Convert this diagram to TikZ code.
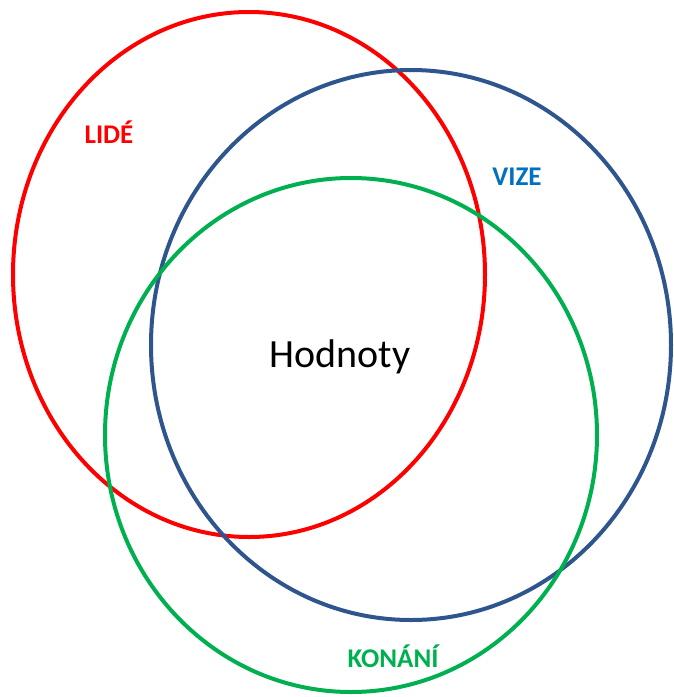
\documentclass[tikz,border=0pt]{standalone}
\usepackage{fontspec}
\setmainfont{Carlito}
\definecolor{ringred}{RGB}{255,0,0}
\definecolor{ringblue}{RGB}{47,85,143}
\definecolor{ringgreen}{RGB}{0,176,80}
\definecolor{textblue}{RGB}{0,112,192}
\begin{document}
\begin{tikzpicture}[x=1pt,y=-1pt,
  ring/.style={line width=4pt},
  lbl/.style={font=\bfseries\fontsize{27}{30}\selectfont, anchor=base, inner sep=0pt}]
\useasboundingbox (0,0) rectangle (674,697);
\draw[ring, ringred] (249,274.5) ellipse [x radius=236pt, y radius=262.5pt];
\draw[ring, ringblue] (411,345) ellipse [x radius=260pt, y radius=275pt];
\draw[ring, ringgreen] (351,435) ellipse [x radius=246pt, y radius=257pt];
\node[lbl, text=ringred] (lide) at (109,143) {LIDÉ};
\node[lbl, text=textblue] (vize) at (517,185) {VIZE};
\node[lbl, text=ringgreen] (konani) at (393,667) {KONÁNÍ};
\node[anchor=base, inner sep=0pt, font=\fontsize{40}{44}\selectfont] (hodnoty) at (340,367) {Hodnoty};
\end{tikzpicture}
\end{document}
